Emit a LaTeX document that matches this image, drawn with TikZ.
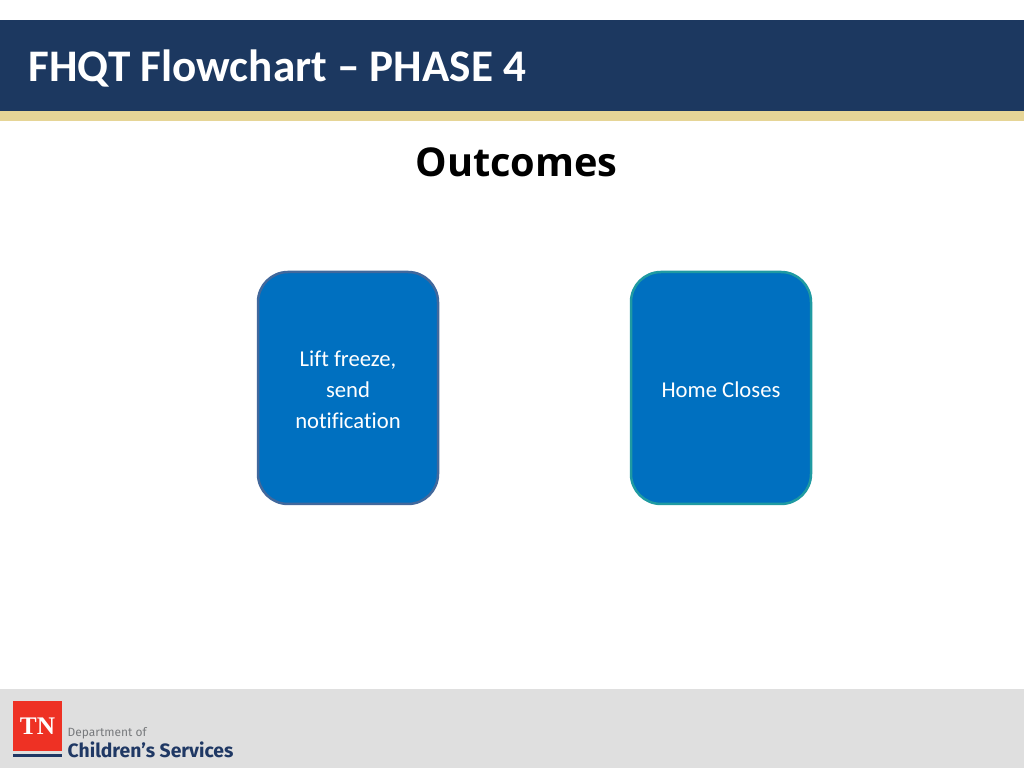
\documentclass[tikz,border=0pt]{standalone}
\usepackage{fontspec}
\setmainfont[Ligatures=NoCommon]{Carlito}
\newfontfamily\headfont{Open Sans}
\newfontfamily\logofont{Liberation Serif}
\newfontfamily\deptfont{Fira Sans}
\definecolor{barnavy}{HTML}{1C3860}
\definecolor{bargold}{HTML}{E6D596}
\definecolor{footgray}{HTML}{DFDFDF}
\definecolor{boxblue}{HTML}{0070C0}
\definecolor{boxslate}{HTML}{41689C}
\definecolor{boxteal}{HTML}{1F9AA2}
\definecolor{logored}{HTML}{EE3124}
\definecolor{deptgray}{HTML}{77797C}
\definecolor{deptnavy}{HTML}{1F3864}
\newcommand{\droptext}{\rule{0pt}{0.2cm}}
\tikzset{
  outcome/.style={draw,fill=boxblue,text=white,line width=0.025cm,rounded corners=0.3cm,
    minimum width=1.8cm,minimum height=2.32cm,inner sep=0pt,align=center,
    font=\fontsize{6.45}{8.8}\selectfont},
}
\begin{document}
\begin{tikzpicture}
\useasboundingbox (0,0) rectangle (10.24,7.68);
% banner
\fill[barnavy] (0,6.57) rectangle (10.24,7.48);
\fill[bargold] (0,6.47) rectangle (10.24,6.57);
\node[anchor=west,text=white,inner sep=0pt] (title) at (0.28,6.99) {\fontsize{12.85}{15}\selectfont\bfseries FHQT Flowchart -- PHASE 4};
\node[inner sep=0pt] (outcomes) at (5.165,6.06) {\headfont\fontsize{11.3}{13}\selectfont\bfseries Outcomes};
% boxes
\node[outcome,draw=boxslate] (lift) at (3.48,3.80) {\droptext Lift freeze,\\send\\notification};
\node[outcome,draw=boxteal] (closes) at (7.21,3.80) {\droptext Home Closes};
% footer
\fill[footgray] (0,0) rectangle (10.24,0.79);
\fill[logored] (0.13,0.17) rectangle (0.62,0.67);
\fill[deptnavy] (0.13,0.11) rectangle (0.62,0.14);
\node[text=white,inner sep=0pt] (tn) at (0.375,0.42) {\logofont\fontsize{7.2}{8}\selectfont\bfseries TN};
\node[anchor=west,text=deptgray,inner sep=0pt] (dept) at (0.67,0.35) {\deptfont\fontsize{3.4}{4}\selectfont Department of};
\node[anchor=west,text=deptnavy,inner sep=0pt] (services) at (0.67,0.18) {\deptfont\fontsize{5.5}{6}\selectfont\bfseries Children’s Services};
\end{tikzpicture}
\end{document}
